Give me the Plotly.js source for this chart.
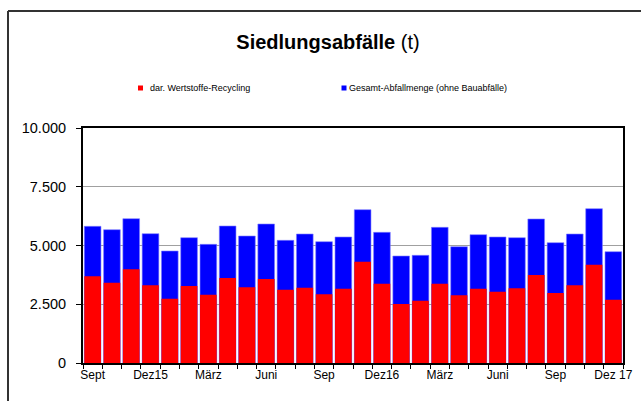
<!DOCTYPE html>
<html>
<head>
<meta charset="utf-8">
<script src="https://cdn.plot.ly/plotly-3.0.1.min.js"></script>
<style>
  html, body { margin: 0; padding: 0; background: #fff; }
  #chart { width: 641px; height: 401px; }
</style>
</head>
<body>
<div id="chart"></div>
<script>
// Months Sep 2015 .. Dez 2017
const months = [
  'Sep 15','Okt 15','Nov 15','Dez 15',
  'Jan 16','Feb 16','Mär 16','Apr 16','Mai 16','Jun 16','Jul 16','Aug 16','Sep 16','Okt 16','Nov 16','Dez 16',
  'Jan 17','Feb 17','Mär 17','Apr 17','Mai 17','Jun 17','Jul 17','Aug 17','Sep 17','Okt 17','Nov 17','Dez 17'
];
// Tick labels shown on the axis (empty = no label)
const tickLabels = [
  'Sept','','','Dez15',
  '','','März','','','Juni','','','Sep','','','Dez16',
  '','','März','','','Juni','','','Sep','','','Dez 17'
];
// Gesamt-Abfallmenge (ohne Bauabfälle), t
const gesamt = [
  5816, 5674, 6142, 5504,
  4766, 5333, 5050, 5830, 5404, 5915, 5220, 5489, 5163, 5362, 6525, 5560,
  4553, 4582, 5773, 4950, 5461, 5362, 5333, 6128, 5121, 5489, 6567, 4738
];
// dar. Wertstoffe-Recycling, t
const recycling = [
  3688, 3418, 3986, 3305,
  2738, 3277, 2908, 3617, 3220, 3574, 3121, 3206, 2922, 3163, 4312, 3376,
  2511, 2652, 3376, 2879, 3163, 3035, 3177, 3745, 2979, 3305, 4184, 2695
];
const seriesNames = ['dar. Wertstoffe-Recycling', 'Gesamt-Abfallmenge (ohne Bauabfälle)'];
const titleText = '<b>Siedlungsabfälle</b> (t)';

const RED = '#ff0000', BLUE = '#0000ff';
const FONT = '"Liberation Sans", Arial, sans-serif';

// plot area in pixels
const W = 641, H = 401, L = 83, R = 18, T = 128, B = 38;
const pw = W - L - R, ph = H - T - B;
const px = x => (x - L) / pw;
const py = y => (H - B - y) / ph;

const traces = [
  { type: 'bar', x: months, y: gesamt, name: seriesNames[1],
    marker: { color: BLUE, line: { width: 0.6, color: '#7f7fff' } }, showlegend: false,
    hovertemplate: '%{x}: %{y:,d} t<extra></extra>' },
  { type: 'bar', x: months, y: recycling, name: seriesNames[0],
    marker: { color: RED, line: { width: 0 } }, showlegend: false,
    hovertemplate: '%{x}: %{y:,d} t<extra></extra>' }
];

const layout = {
  width: W, height: H,
  margin: { l: L, r: R, t: T, b: B, pad: 0 },
  paper_bgcolor: '#fff', plot_bgcolor: '#fff',
  separators: ',.',
  font: { family: FONT, color: '#000' },
  barmode: 'overlay',
  bargap: 0.135,
  title: { text: titleText, font: { family: FONT, size: 20, color: '#000' },
           xref: 'container', x: 328 / W, xanchor: 'center',
           yref: 'container', y: 1 - 42 / H, yanchor: 'middle' },
  xaxis: {
    type: 'category',
    tickmode: 'array', tickvals: months, ticktext: tickLabels, tickangle: 0,
    tickson: 'boundaries', ticks: 'outside', ticklen: 4, tickcolor: '#000', tickwidth: 1,
    tickfont: { family: FONT, size: 12, color: '#000' },
    showline: true, linecolor: '#000', linewidth: 2, mirror: true,
    showgrid: false, zeroline: false, fixedrange: true
  },
  yaxis: {
    range: [0, 10000], tickmode: 'linear', tick0: 0, dtick: 2500,
    tickformat: ',d',
    ticks: 'outside', ticklen: 5, tickcolor: '#000', tickwidth: 1,
    ticklabelstandoff: 7,
    tickfont: { family: FONT, size: 14.5, color: '#000' },
    showline: true, linecolor: '#000', linewidth: 2, mirror: true,
    showgrid: true, gridcolor: '#a0a0a0', gridwidth: 1,
    zeroline: false, fixedrange: true
  },
  shapes: [
    // outer chart border (left and top visible)
    { type: 'line', xref: 'paper', yref: 'paper', x0: px(8), x1: px(8), y0: py(H + 5), y1: py(11),
      line: { color: '#333', width: 2 } },
    { type: 'line', xref: 'paper', yref: 'paper', x0: px(8), x1: px(W + 5), y0: py(11), y1: py(11),
      line: { color: '#333', width: 2 } },
    // legend keys
    { type: 'rect', xref: 'paper', yref: 'paper', x0: px(138), x1: px(143), y0: py(90.5), y1: py(85.5),
      fillcolor: RED, line: { width: 0 } },
    { type: 'rect', xref: 'paper', yref: 'paper', x0: px(341.5), x1: px(346.5), y0: py(90.5), y1: py(85.5),
      fillcolor: BLUE, line: { width: 0 } }
  ],
  annotations: [
    { xref: 'paper', yref: 'paper', x: px(147.5), y: py(88), xanchor: 'left', yanchor: 'middle',
      text: seriesNames[0], showarrow: false, font: { family: FONT, size: 9, color: '#000' } },
    { xref: 'paper', yref: 'paper', x: px(346.5), y: py(88), xanchor: 'left', yanchor: 'middle',
      text: seriesNames[1], showarrow: false, font: { family: FONT, size: 9, color: '#000' } }
  ]
};

Plotly.newPlot('chart', traces, layout, { displayModeBar: false, staticPlot: true });
</script>
</body>
</html>
